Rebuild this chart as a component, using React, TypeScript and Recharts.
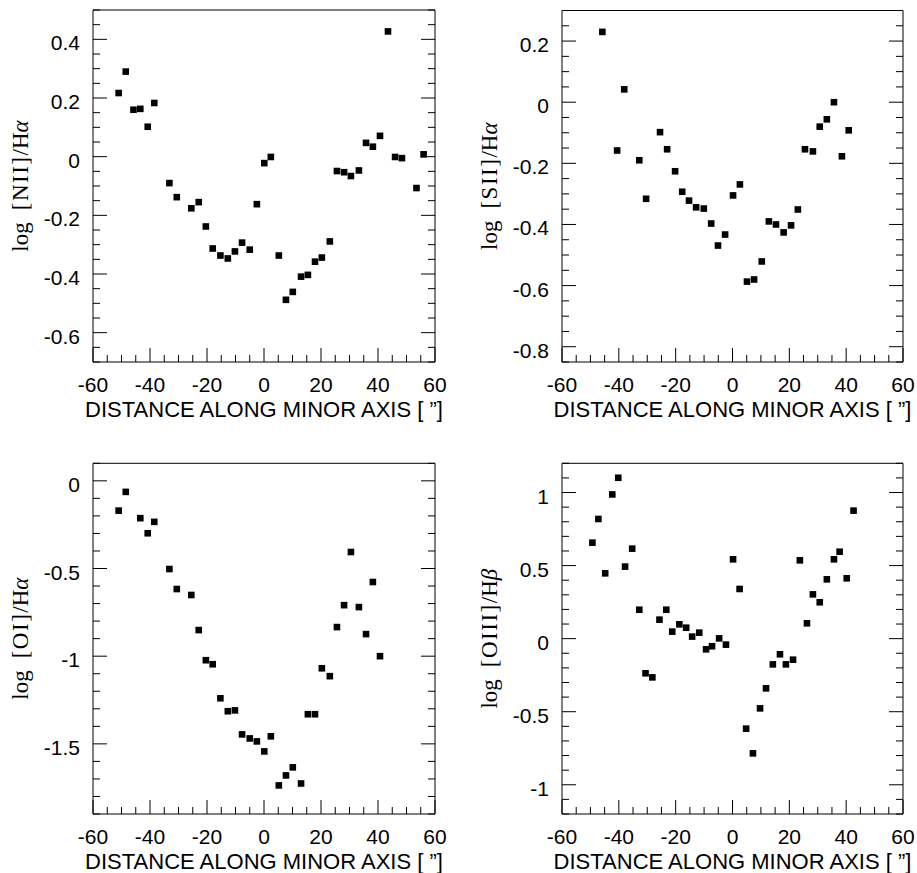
import { ScatterChart, Scatter, XAxis, YAxis, Label } from 'recharts';

// shared x axis (distance along minor axis, arcsec)
const xTicks = [-60, -55, -50, -45, -40, -35, -30, -25, -20, -15, -10, -5, 0, 5, 10, 15, 20, 25, 30, 35, 40, 45, 50, 55, 60];
const xMajor = [-60, -40, -20, 0, 20, 40, 60];

// log [NII]/Ha
const nIIx = [-51.0, -48.5, -45.8, -43.4, -40.8, -38.5, -33.2, -30.6, -25.5, -22.9, -20.4, -18.0, -15.3, -12.7, -10.2, -7.7, -5.0, -2.5, 0.1, 2.4, 5.2, 7.7, 10.1, 13.0, 15.4, 17.9, 20.3, 23.1, 25.6, 28.1, 30.5, 33.3, 35.8, 38.2, 40.7, 43.5, 46.0, 48.4, 53.5, 56.0];
const nIIy = [0.217, 0.29, 0.16, 0.163, 0.102, 0.183, -0.09, -0.138, -0.176, -0.155, -0.238, -0.313, -0.337, -0.347, -0.323, -0.293, -0.317, -0.162, -0.022, -0.001, -0.337, -0.488, -0.461, -0.409, -0.403, -0.358, -0.344, -0.289, -0.049, -0.053, -0.066, -0.047, 0.047, 0.034, 0.071, 0.427, -0.001, -0.005, -0.107, 0.008];
const nIITicks = [-0.7, -0.65, -0.6, -0.55, -0.5, -0.45, -0.4, -0.35, -0.3, -0.25, -0.2, -0.15, -0.1, -0.05, 0, 0.05, 0.1, 0.15, 0.2, 0.25, 0.3, 0.35, 0.4, 0.45, 0.5];
const nIIMajor = [-0.6, -0.4, -0.2, 0, 0.2, 0.4];

// log [SII]/Ha
const sIIx = [-45.8, -40.6, -38.1, -32.8, -30.4, -25.5, -23.0, -20.2, -17.7, -15.3, -12.8, -10.1, -7.5, -5.1, -2.6, 0.2, 2.6, 5.1, 7.6, 10.3, 12.8, 15.3, 18.0, 20.6, 23.0, 25.5, 28.3, 30.7, 33.2, 35.7, 38.5, 40.9];
const sIIy = [0.23, -0.158, 0.042, -0.19, -0.316, -0.098, -0.154, -0.226, -0.293, -0.322, -0.344, -0.348, -0.397, -0.469, -0.433, -0.305, -0.269, -0.587, -0.58, -0.521, -0.39, -0.4, -0.426, -0.403, -0.351, -0.154, -0.161, -0.08, -0.056, 0.0, -0.177, -0.092];
const sIITicks = [-0.85, -0.8, -0.75, -0.7, -0.65, -0.6, -0.55, -0.5, -0.45, -0.4, -0.35, -0.3, -0.25, -0.2, -0.15, -0.1, -0.05, 0, 0.05, 0.1, 0.15, 0.2, 0.25, 0.3];
const sIIMajor = [-0.8, -0.6, -0.4, -0.2, 0, 0.2];

// log [OI]/Ha
const oIx = [-51.0, -48.5, -43.4, -40.8, -38.5, -33.2, -30.6, -25.5, -22.9, -20.4, -18.0, -15.3, -12.7, -10.2, -7.7, -5.0, -2.5, 0.1, 2.4, 5.2, 7.7, 10.1, 13.0, 15.4, 17.9, 20.3, 23.1, 25.6, 28.1, 30.5, 33.3, 35.8, 38.2, 40.7];
const oIy = [-0.17, -0.063, -0.213, -0.299, -0.234, -0.503, -0.617, -0.651, -0.851, -1.023, -1.046, -1.24, -1.314, -1.309, -1.446, -1.469, -1.486, -1.543, -1.457, -1.737, -1.68, -1.634, -1.726, -1.331, -1.331, -1.069, -1.114, -0.834, -0.709, -0.406, -0.72, -0.874, -0.577, -1.0];
const oITicks = [-1.9, -1.8, -1.7, -1.6, -1.5, -1.4, -1.3, -1.2, -1.1, -1, -0.9, -0.8, -0.7, -0.6, -0.5, -0.4, -0.3, -0.2, -0.1, 0, 0.1];
const oIMajor = [-1.5, -1, -0.5, 0];

// log [OIII]/Hb
const oIIIx = [-49.3, -47.2, -44.8, -42.3, -40.2, -37.8, -35.3, -32.8, -30.6, -28.2, -25.7, -23.3, -21.2, -18.7, -16.3, -14.2, -11.7, -9.3, -7.2, -4.7, -2.3, 0.2, 2.5, 4.8, 7.2, 9.7, 11.8, 14.2, 16.7, 18.8, 21.3, 23.7, 26.2, 28.3, 30.7, 33.2, 35.7, 37.7, 40.2, 42.6];
const oIIIy = [0.657, 0.819, 0.447, 0.987, 1.101, 0.493, 0.616, 0.198, -0.237, -0.265, 0.13, 0.198, 0.048, 0.098, 0.075, 0.014, 0.041, -0.073, -0.052, 0.002, -0.041, 0.543, 0.34, -0.616, -0.785, -0.477, -0.34, -0.176, -0.107, -0.176, -0.144, 0.536, 0.105, 0.303, 0.249, 0.406, 0.543, 0.595, 0.413, 0.876];
const oIIITicks = [-1.2, -1.1, -1, -0.9, -0.8, -0.7, -0.6, -0.5, -0.4, -0.3, -0.2, -0.1, 0, 0.1, 0.2, 0.3, 0.4, 0.5, 0.6, 0.7, 0.8, 0.9, 1, 1.1, 1.2];
const oIIIMajor = [-1, -0.5, 0, 0.5, 1];

const SANS = '"Liberation Sans", Arial, Helvetica, sans-serif';
const SERIF = '"Liberation Serif", "Times New Roman", serif';
const LONG = 14;
const SHORT = 7;

const isMajor = (list: number[], v: number) => list.some(m => Math.abs(m - v) < 1e-9);

function makeTick(side: string, major: number[]) {
  return (props: any) => {
    const { x, y, payload } = props;
    const v = payload.value;
    const big = isMajor(major, v);
    const len = big ? LONG : SHORT;
    if (side === 'bottom') {
      return (
        <g>
          <line x1={x} x2={x} y1={y} y2={y - len} stroke="#000" />
          {big && <text x={x} y={y + 30} textAnchor="middle" fontSize={21} fontFamily={SANS} fill="#000">{String(v)}</text>}
        </g>
      );
    }
    if (side === 'top') return <line x1={x} x2={x} y1={y} y2={y + len} stroke="#000" />;
    if (side === 'left') {
      return (
        <g>
          <line x1={x} x2={x + len} y1={y} y2={y} stroke="#000" />
          {big && <text x={x - 13} y={y + 11} textAnchor="end" fontSize={21} fontFamily={SANS} fill="#000">{String(v)}</text>}
        </g>
      );
    }
    return <line x1={x} x2={x - len} y1={y} y2={y} stroke="#000" />;
  };
}

const Square = (p: any) => <rect x={p.cx - 3.3} y={p.cy - 3.3} width={6.6} height={6.6} fill="#000" />;

interface PanelProps {
  left: number; top: number; width: number; height: number;
  margin: { top: number; right: number; bottom: number; left: number };
  xs: number[]; ys: number[];
  yTicks: number[]; yMajor: number[];
  ion: string; den: string;
}

function Panel({ left, top, width, height, margin, xs, ys, yTicks, yMajor, ion, den }: PanelProps) {
  const rows = xs.map((x, i) => ({ x, y: ys[i] }));
  const yDomain = [yTicks[0], yTicks[yTicks.length - 1]];
  return (
    <div style={{ position: 'absolute', left, top }}>
      <ScatterChart width={width} height={height} margin={margin}>
        <XAxis xAxisId="b" type="number" dataKey="x" domain={[-60, 60]} allowDataOverflow ticks={xTicks} interval={0}
          orientation="bottom" height={1} tickLine={false} tickSize={0} tickMargin={0}
          axisLine={{ stroke: '#000' }} tick={makeTick('bottom', xMajor)}>
          <Label content={(p: any) => {
            const vb = p.viewBox;
            return (
              <text x={vb.x + vb.width / 2} y={vb.y + 55} textAnchor="middle" fontSize={22} fontFamily={SANS} fill="#000">
                DISTANCE ALONG MINOR AXIS [ ”]
              </text>
            );
          }} />
        </XAxis>
        <XAxis xAxisId="t" type="number" domain={[-60, 60]} allowDataOverflow ticks={xTicks} interval={0}
          orientation="top" height={1} tickLine={false} tickSize={0} tickMargin={0}
          axisLine={{ stroke: '#000' }} tick={makeTick('top', xMajor)} />
        <YAxis yAxisId="l" type="number" dataKey="y" domain={yDomain} allowDataOverflow ticks={yTicks} interval={0}
          orientation="left" width={1} tickLine={false} tickSize={0} tickMargin={0}
          axisLine={{ stroke: '#000' }} tick={makeTick('left', yMajor)}>
          <Label content={(p: any) => {
            const vb = p.viewBox;
            const cx = vb.x + vb.width - 65;
            const cy = vb.y + vb.height / 2;
            return (
              <text x={cx} y={cy} transform={`rotate(-90 ${cx} ${cy})`} textAnchor="middle" fontSize={23} fontFamily={SERIF} fill="#000">
                <tspan>log</tspan>
                <tspan dx={12} letterSpacing={1.5}>[{ion}]</tspan>
                <tspan>/H</tspan>
                <tspan fontStyle="italic">{den}</tspan>
              </text>
            );
          }} />
        </YAxis>
        <YAxis yAxisId="r" type="number" domain={yDomain} allowDataOverflow ticks={yTicks} interval={0}
          orientation="right" width={1} tickLine={false} tickSize={0} tickMargin={0}
          axisLine={{ stroke: '#000' }} tick={makeTick('right', yMajor)} />
        <Scatter data={rows} xAxisId="b" yAxisId="l" shape={Square} isAnimationActive={false} />
      </ScatterChart>
    </div>
  );
}

export default function App() {
  return (
    <div style={{ position: 'absolute', left: 0, top: 0, width: 917, height: 873, background: '#fff' }}>
      <Panel left={0} top={0} width={460} height={430} margin={{ top: 9, right: 24, bottom: 67, left: 92 }}
        xs={nIIx} ys={nIIy} yTicks={nIITicks} yMajor={nIIMajor} ion="NII" den="α" />
      <Panel left={460} top={0} width={457} height={430} margin={{ top: 9.5, right: 13, bottom: 67, left: 101 }}
        xs={sIIx} ys={sIIy} yTicks={sIITicks} yMajor={sIIMajor} ion="SII" den="α" />
      <Panel left={0} top={430} width={460} height={443} margin={{ top: 32.3, right: 24, bottom: 58, left: 92 }}
        xs={oIx} ys={oIy} yTicks={oITicks} yMajor={oIMajor} ion="OI" den="α" />
      <Panel left={460} top={430} width={457} height={443} margin={{ top: 32.3, right: 13, bottom: 58, left: 101 }}
        xs={oIIIx} ys={oIIIy} yTicks={oIIITicks} yMajor={oIIIMajor} ion="OIII" den="β" />
    </div>
  );
}
